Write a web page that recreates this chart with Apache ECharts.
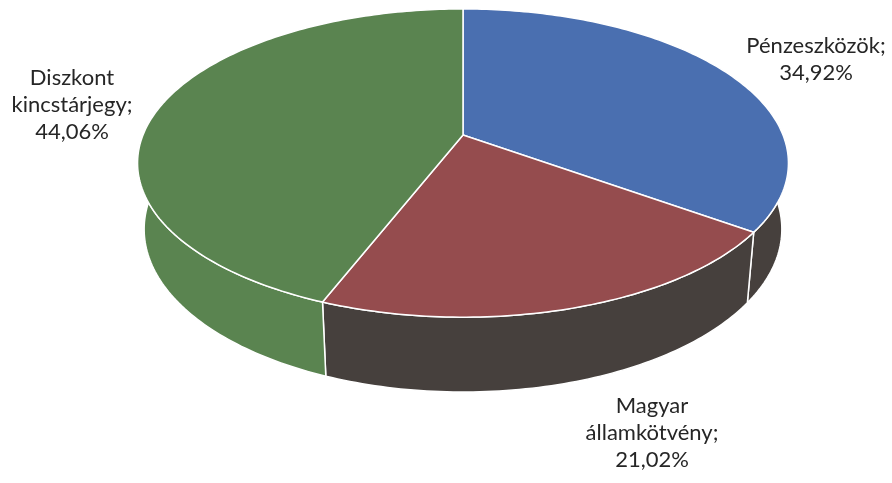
<!DOCTYPE html>
<html>
<head>
<meta charset="utf-8">
<script src="https://cdn.jsdelivr.net/npm/echarts@6/dist/echarts.min.js"></script>
<style>
  html, body { margin: 0; padding: 0; background: #fff; }
  #chart { width: 892px; height: 483px; }
</style>
</head>
<body>
<div id="chart"></div>
<script>
// adatok
const names = ["Pénzeszközök", "Magyar államkötvény", "Diszkont kincstárjegy"];
const values = [34.92, 21.02, 44.06];

// stílus
const topColors = ["#4a6fb0", "#954c4e", "#5a8450"];
const sideColors = ["#46403d", "#46403d", "#5a8450"];
// címkék helye (középpont x, doboz teteje y)
const labelPos = [[816, 32], [652, 392], [72, 64]];

// a "3D" torta vetítése (perspektíva közelítés)
const geo = { cx: 463, cy: 135, a: 320, b: 149, k: 0.182, m: 0.02, depth: 66.4 };

function project(theta, t) {
  const u = Math.sin(theta);
  const v = -Math.cos(theta);
  const w = 1 - geo.k * v + geo.m * t;
  return [geo.cx + geo.a * u / w, geo.cy + (geo.b * v + geo.depth * t) / w];
}

function arc(from, to, t) {
  const pts = [];
  const n = Math.max(2, Math.ceil(Math.abs(to - from) / (Math.PI / 180)));
  for (let i = 0; i <= n; i++) {
    pts.push(project(from + (to - from) * i / n, t));
  }
  return pts;
}

const total = values.reduce((s, v) => s + v, 0);

function renderItem(params, api) {
  const i = params.dataIndex;
  let before = 0;
  for (let j = 0; j < i; j++) before += values[j];
  const start = before / total * Math.PI * 2;
  const end = (before + api.value(0)) / total * Math.PI * 2;

  const children = [];
  // oldalfal csak az elülső félen látszik
  const s = Math.max(start, Math.PI / 2);
  const e = Math.min(end, Math.PI * 3 / 2);
  if (e > s) {
    const pts = arc(s, e, 0).concat(arc(e, s, 1));
    children.push({
      type: "polygon",
      z2: 1,
      shape: { points: pts },
      style: { fill: sideColors[i], stroke: "#fff", lineWidth: 1.5 },
    });
  }
  const topPts = [[geo.cx, geo.cy]].concat(arc(start, end, 0));
  children.push({
    type: "polygon",
    z2: 10,
    shape: { points: topPts },
    style: { fill: topColors[i], stroke: "#fff", lineWidth: 1.5, lineJoin: "round" },
  });
  return { type: "group", children: children };
}

function labelText(i) {
  return names[i].replace(" ", "\n") + ";\n" + values[i].toFixed(2).replace(".", ",") + "%";
}

let option = {
  backgroundColor: "#fff",
  animation: false,
  series: [
    {
      type: "custom",
      coordinateSystem: "none",
      renderItem: renderItem,
      data: values.map((v, i) => ({ value: [v], name: names[i] })),
    },
  ],
  graphic: values.map((v, i) => ({
    type: "text",
    x: labelPos[i][0],
    y: labelPos[i][1],
    style: {
      text: labelText(i),
      font: "22px Lato",
      lineHeight: 27,
      fill: "#262626",
      align: "center",
      verticalAlign: "top",
    },
  })),
};

let myChart = echarts.init(document.getElementById("chart"));
myChart.setOption(option);
</script>
</body>
</html>
